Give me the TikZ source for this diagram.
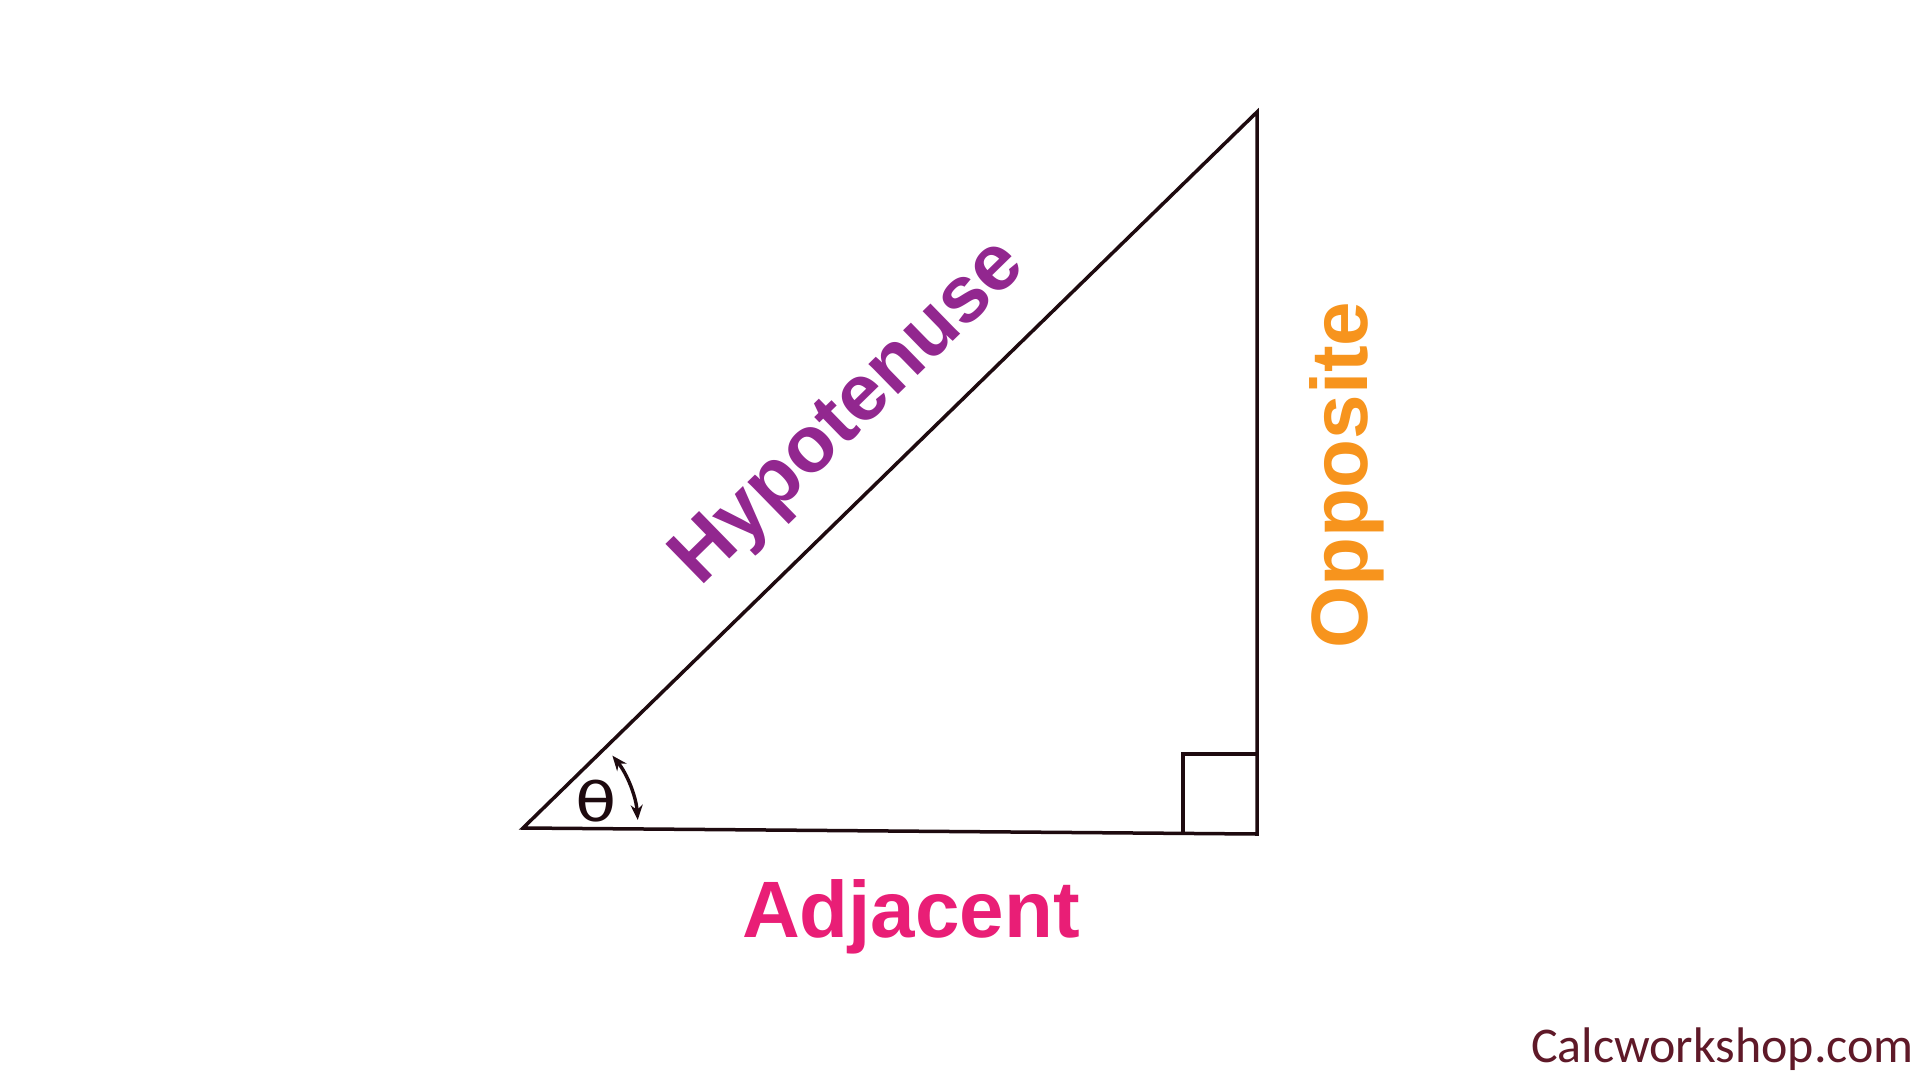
\documentclass[tikz,border=0pt]{standalone}
\usepackage{fontspec}
\setmainfont{Liberation Sans}
\newfontfamily\cwfont{Carlito}
\newfontfamily\thfont{DejaVu Sans}
\usetikzlibrary{arrows.meta,calc}
\definecolor{hypcol}{RGB}{146,39,143}
\definecolor{oppcol}{RGB}{247,148,29}
\definecolor{adjcol}{RGB}{233,30,118}
\definecolor{linecol}{RGB}{30,10,15}
\definecolor{webcol}{RGB}{95,25,40}
\tikzset{
  side/.style={draw=linecol,line width=3.5pt,line join=miter},
  label/.style={inner sep=0pt,font=\fontsize{80}{96}\selectfont\bfseries},
}
\begin{document}
\begin{tikzpicture}[x=1pt,y=-1pt]
\fill[white] (0,0) rectangle (1920,1080);
\useasboundingbox (0,0) rectangle (1920,1080);
\coordinate (A) at (523,828);
\coordinate (B) at (1257,834);
\coordinate (C) at (1257,112);
\draw[side] (A) -- (B) -- (C) -- cycle;
\draw[side,line width=3.8pt] (B) ++(-74,0) coordinate (s1) -- ++(0,-80) coordinate (s2) -- ++(74,0) coordinate (s3);
\draw[draw=linecol,line width=3.4pt,{Stealth[length=15pt,width=12pt]}-{Stealth[length=15pt,width=12pt]}]
  (A) ++(-39:115) arc[start angle=-39,end angle=-4,radius=115];
\node[inner sep=0pt,text=linecol,xscale=1.25,font=\thfont\fontsize{54}{64}\selectfont] (theta) at (596,801) {θ};
\node[label,text=hypcol,anchor=base,rotate=44.3] (hyp) at (864,428) {Hypotenuse};
\node[label,text=oppcol,anchor=base,rotate=90] (opp) at (1367,475) {Opposite};
\node[label,text=adjcol,anchor=base] (adj) at (911,937) {Adjacent};
\node[inner sep=0pt,text=webcol,anchor=base east,font=\cwfont\fontsize{50}{60}\selectfont] (web) at (1914,1062) {Calcworkshop.com};
\end{tikzpicture}
\end{document}
